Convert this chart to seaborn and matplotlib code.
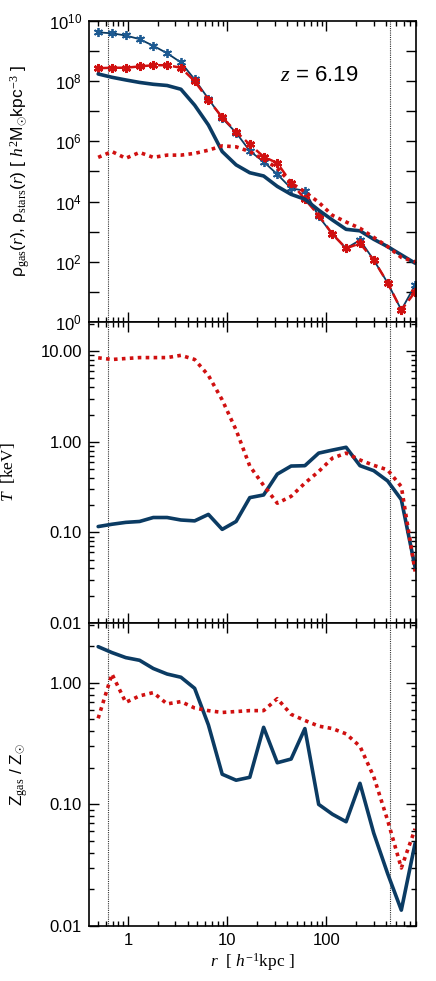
import matplotlib
matplotlib.use("Agg")
import matplotlib.pyplot as plt
import matplotlib.ticker as mticker
import numpy as np
import seaborn as sns

# radial bins [h^-1 kpc]
r = [0.501, 0.690, 0.950, 1.31, 1.80, 2.48, 3.42, 4.70, 6.47, 8.91, 12.3, 16.9,
     23.3, 32.0, 44.1, 60.7, 83.6, 115, 158, 218, 300, 414, 569, 784]

# density profiles
rho_blue_star = [4.2e9, 3.9e9, 3.3e9, 2.5e9, 1.5e9, 8.5e8, 4.2e8, 1.15e8, 2.6e7, 5.9e6, 1.95e6, 4.8e5,
                 2.1e5, 8.1e4, 2.75e4, 2.3e4, 3.2e3, 830, 280, 525, 115, 20, 2.5, 17]
rho_red_star = [2.7e8, 2.8e8, 2.8e8, 3.1e8, 3.4e8, 3.4e8, 2.8e8, 1.0e8, 2.4e7, 6.3e6, 2.1e6, 7.9e5,
                3.1e5, 1.9e5, 4.3e4, 1.2e4, 3.5e3, 830, 280, 410, 115, 20, 2.5, 10]
rho_gas = [1.74e8, 1.35e8, 1.1e8, 9.1e7, 7.9e7, 7.2e7, 5.4e7, 1.6e7, 3.5e6, 4.6e5, 1.66e5, 9.1e4,
           7.1e4, 3.2e4, 1.74e4, 1.2e4, 5.2e3, 2.45e3, 1.2e3, 1.07e3, 560, 320, 170, 90]
rho_stars = [2.95e5, 4.6e5, 2.75e5, 4.3e5, 2.95e5, 3.5e5, 3.5e5, 4.0e5, 5.1e5, 7.1e5, 6.6e5, 4.6e5,
             2.5e5, 1.3e5, 4.1e4, 2.1e4, 9.5e3, 3.5e3, 2.1e3, 1.3e3, 650, 320, 140, 100]

# temperature profiles [keV]
T_blue = [0.116, 0.123, 0.129, 0.132, 0.146, 0.146, 0.137, 0.134, 0.158, 0.108, 0.132, 0.242,
          0.259, 0.44, 0.54, 0.545, 0.75, 0.81, 0.87, 0.545, 0.48, 0.37, 0.23, 0.041]
T_red = [8.45, 8.1, 8.3, 8.5, 8.5, 8.5, 9.0, 8.1, 5.4, 2.9, 1.35, 0.54,
         0.33, 0.21, 0.25, 0.35, 0.47, 0.66, 0.75, 0.63, 0.55, 0.49, 0.32, 0.037]

# metallicity profiles [Z_sun]
Z_blue = [1.98, 1.77, 1.61, 1.53, 1.31, 1.18, 1.11, 0.90, 0.45, 0.177, 0.158, 0.167,
          0.43, 0.22, 0.236, 0.42, 0.100, 0.083, 0.072, 0.149, 0.058, 0.027, 0.0135, 0.048]
Z_red = [0.51, 1.18, 0.69, 0.78, 0.83, 0.67, 0.70, 0.62, 0.59, 0.57, 0.58, 0.59,
         0.59, 0.74, 0.55, 0.49, 0.44, 0.42, 0.38, 0.30, 0.169, 0.074, 0.030, 0.063]

r_marks = [0.63, 437]

navy = "#0b3b63"
lblue = "#1d5a92"
red = "#d01010"

sns.set_style("ticks")
plt.rcParams['font.family'] = ['Liberation Sans', 'DejaVu Sans']
plt.rcParams['mathtext.fontset'] = 'custom'
plt.rcParams['mathtext.rm'] = 'Liberation Serif'
plt.rcParams['mathtext.it'] = 'Liberation Serif:italic'
plt.rcParams['mathtext.sf'] = 'Liberation Sans'
plt.rcParams['mathtext.bf'] = 'Liberation Serif:bold'
for k in ['text.color', 'axes.labelcolor', 'xtick.color', 'ytick.color', 'axes.edgecolor']:
    plt.rcParams[k] = 'black'

fig = plt.figure(figsize=(4.36, 9.81), dpi=100)
L, W = 89 / 436, 327 / 436
ax1 = fig.add_axes([L, 1 - 322 / 981, W, 301 / 981])
ax2 = fig.add_axes([L, 1 - 623 / 981, W, 301 / 981])
ax3 = fig.add_axes([L, 1 - 926 / 981, W, 303 / 981])

ast = (6, 2, 0)
# top panel
sns.lineplot(x=r, y=rho_blue_star, ax=ax1, color=navy, lw=1.3, marker=ast, ms=6.5,
             mec=lblue, mew=1.3)
sns.lineplot(x=r, y=rho_red_star, ax=ax1, color=red, lw=1.8, linestyle=(0, (4, 2)),
             marker=ast, ms=6.5, mec=red, mew=1.8)
sns.lineplot(x=r, y=rho_gas, ax=ax1, color=navy, lw=2.6)
sns.lineplot(x=r, y=rho_stars, ax=ax1, color=red, lw=2.6, linestyle=(0, (1, 1.2)))

sns.lineplot(x=r, y=T_blue, ax=ax2, color=navy, lw=2.6)
sns.lineplot(x=r, y=T_red, ax=ax2, color=red, lw=2.6, linestyle=(0, (1, 1.2)))

sns.lineplot(x=r, y=Z_blue, ax=ax3, color=navy, lw=2.6)
sns.lineplot(x=r, y=Z_red, ax=ax3, color=red, lw=2.6, linestyle=(0, (1, 1.2)))

for ax in (ax1, ax2, ax3):
    ax.set_xscale('log')
    ax.set_yscale('log')
    ax.set_xlim(0.405, 800)
    for rm in r_marks:
        ax.axvline(rm, color='#333333', lw=0.8, linestyle=(0, (1, 1)), zorder=0)
    for s in ax.spines.values():
        s.set_linewidth(1.2)
        s.set_visible(True)
    ax.tick_params(which='both', direction='in', top=True, right=True, width=1.0,
                   labelsize=12, pad=5)
    ax.tick_params(which='major', length=7)
    ax.tick_params(which='minor', length=3.5)
    ax.xaxis.set_major_locator(mticker.LogLocator(base=10, numticks=10))
    ax.xaxis.set_minor_locator(mticker.LogLocator(base=10, subs=np.arange(2, 10), numticks=10))
    ax.set_xlabel('')
    ax.set_ylabel('')

ax1.set_ylim(1, 1e10)
ax1.yaxis.set_major_locator(mticker.FixedLocator([10.0 ** k for k in range(0, 11)]))
ax1.yaxis.set_minor_locator(mticker.NullLocator())
ax1.yaxis.set_major_formatter(mticker.FuncFormatter(
    lambda v, p: r'$\mathsf{10^{%d}}$' % round(np.log10(v)) if round(np.log10(v)) % 2 == 0 else ''))
ax1.text(0.585, 0.82, r'$z$ = 6.19', transform=ax1.transAxes, fontsize=16, va='center')

ax2.set_ylim(0.01, 21)
ax2.yaxis.set_major_locator(mticker.FixedLocator([0.01, 0.1, 1, 10]))
ax2.yaxis.set_minor_locator(mticker.LogLocator(base=10, subs=np.arange(2, 10), numticks=10))
ax2.yaxis.set_major_formatter(mticker.FormatStrFormatter('%.2f'))
ax2.yaxis.set_minor_formatter(mticker.NullFormatter())

ax3.set_ylim(0.01, 3.1)
ax3.yaxis.set_major_locator(mticker.FixedLocator([0.01, 0.1, 1]))
ax3.yaxis.set_minor_locator(mticker.LogLocator(base=10, subs=np.arange(2, 10), numticks=10))
ax3.yaxis.set_major_formatter(mticker.FormatStrFormatter('%.2f'))
ax3.yaxis.set_minor_formatter(mticker.NullFormatter())

ax1.tick_params(axis='x', which='both', labelbottom=False)
ax2.tick_params(axis='x', which='both', labelbottom=False)
ax3.xaxis.set_major_formatter(mticker.FuncFormatter(lambda v, p: '%g' % v))
ax3.xaxis.set_minor_formatter(mticker.NullFormatter())

ax1.set_ylabel('ρ$_{\\rm gas}$($r$), ρ$_{\\rm stars}$($r$) [ $h^2$M$_{\\odot}$kpc$^{-3}$ ]',
               fontsize=12.5)
ax1.yaxis.set_label_coords(-0.175, 0.5)
ax2.set_ylabel(r'$T$  [keV]', fontsize=12.5, family='Liberation Serif')
ax2.yaxis.set_label_coords(-0.22, 0.5)
ax3.set_ylabel(r'Z$_{\rm gas}$ / Z$_{\odot}$', fontsize=12.5)
ax3.yaxis.set_label_coords(-0.18, 0.5)
ax3.set_xlabel(r'$r$  [ $h^{-1}$kpc ]', fontsize=12.5, family='Liberation Serif', labelpad=2)

fig.savefig('out.png', dpi=100)
